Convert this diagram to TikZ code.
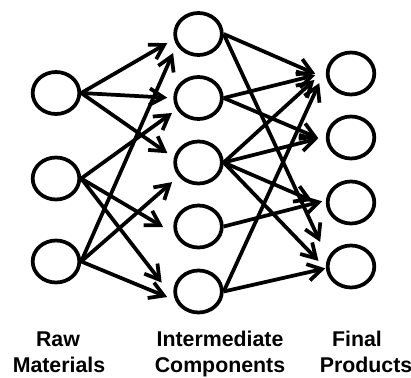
\documentclass[tikz,border=0pt]{standalone}
\usepackage{fontspec}
\setmainfont{Liberation Sans}
\usetikzlibrary{shapes.geometric,arrows.meta}

\tikzset{every picture/.style={line width=2.8pt}}
\tikzset{
  part/.style={draw, ellipse, minimum width=35pt, minimum height=31.5pt, inner sep=0pt},
  flow/.style={-{Straight Barb[length=10.5pt,width=12.5pt]}},
  caption/.style={anchor=base, inner sep=0.75pt, font=\fontsize{16}{19}\selectfont\bfseries}
}

\begin{document}
\begin{tikzpicture}[x=0.75pt,y=0.75pt,yscale=-1,xscale=1]
%set diagram left start at 0, and has size of 411 x 378
\path[use as bounding box] (0,0) rectangle (411,378);

%Shape: Ellipse [raw materials]
\node[part] (raw1) at (56,93) {};
\node[part] (raw2) at (56,178.5) {};
\node[part] (raw3) at (56,261.5) {};
%Shape: Ellipse [intermediate components]
\node[part] (mid1) at (198.5,34) {};
\node[part] (mid2) at (198.5,98) {};
\node[part] (mid3) at (198.5,162.5) {};
\node[part] (mid4) at (198.5,226.5) {};
\node[part] (mid5) at (198.5,291.5) {};
%Shape: Ellipse [final products]
\node[part] (fin1) at (351,73.5) {};
\node[part] (fin2) at (351,137.5) {};
\node[part] (fin3) at (351,202.5) {};
\node[part] (fin4) at (351,266.5) {};

%Straight Lines [raw -> intermediate]
\draw[flow, shorten >=5.8pt] (raw1.east) -- (mid1.192);
\draw[flow, shorten >=4.6pt] (raw1.east) -- (mid2.west);
\draw[flow, shorten >=5.9pt] (raw1.east) -- (mid3.169);
\draw[flow, shorten >=4.4pt] (raw2.east) -- (mid2.208);
\draw[flow, shorten >=10pt] (raw2.east) -- (mid4.197);
\draw[flow, shorten >=16.5pt] (raw2.east) -- (mid5.200);
\draw[flow, shorten >=6.4pt] (raw3.east) -- (mid1.207);
\draw[flow, shorten >=6.4pt] (raw3.east) -- (mid3.215);
\draw[flow, shorten >=6.6pt] (raw3.east) -- (mid5.201);

%Straight Lines [intermediate -> final]
\draw[flow, shorten >=9.2pt] (mid1.east) -- (fin1.192);
\draw[flow, shorten >=13.3pt] (mid1.east) -- (fin4.160);
\draw[flow, shorten >=8.3pt] (mid2.east) -- (fin1.178);
\draw[flow, shorten >=6.5pt] (mid2.east) -- (fin2.189);
\draw[flow, shorten >=12pt] (mid3.east) -- (fin1.170);
\draw[flow, shorten >=5.9pt] (mid3.east) -- (fin2.178);
\draw[flow, shorten >=11.3pt] (mid3.east) -- (fin3.190);
\draw[flow, shorten >=8.1pt] (mid3.east) -- (fin4.185);
\draw[flow, shorten >=3pt] (mid4.east) -- (fin3.175);
\draw[flow, shorten >=15pt] (mid5.east) -- (fin1.160);
\draw[flow, shorten >=0.4pt] (mid5.east) -- (fin4.184);

% Text Node
\node[caption] (rawA) at (58,346.5) {Raw};
% Text Node
\node[caption] (rawB) at (59,372.5) {Materials};
% Text Node
\node[caption] (midA) at (220,346.5) {Intermediate};
% Text Node
\node[caption] (midB) at (220,372.5) {Components};
% Text Node
\node[caption] (finA) at (357,346.5) {Final};
% Text Node
\node[caption] (finB) at (366,372.5) {Products};

\end{tikzpicture}
\end{document}
